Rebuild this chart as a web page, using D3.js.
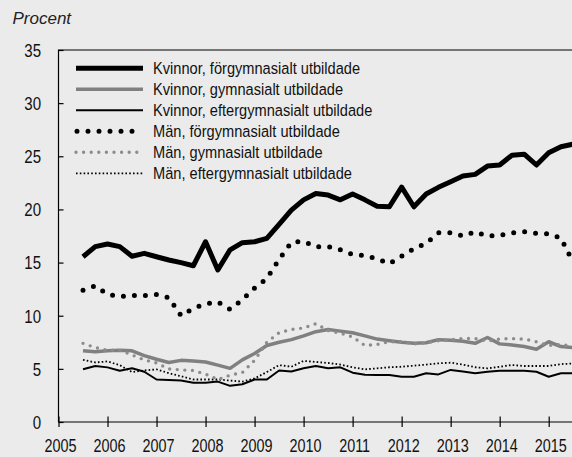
<!DOCTYPE html>
<html>
<head>
<meta charset="utf-8">
<script src="https://cdn.jsdelivr.net/npm/d3@7"></script>
<style>
  html, body { margin: 0; padding: 0; background: #ebebeb; overflow: hidden; }
  svg { display: block; }
  .tick text, .legend text { font-family: "Liberation Sans", Arial, sans-serif; fill: #111; }
</style>
</head>
<body>
<svg id="chart"></svg>
<script>
const width = 572, height = 457;

// quarterly observations, 2005 K3 .. 2015 K3
const quarters = d3.range(41).map(i => {
    const y = 2005 + Math.floor((i + 2) / 4), q = (i + 2) % 4 + 1;
    return y + "K" + q;
});

const kvinnorFor = [15.55, 16.5, 16.75, 16.5, 15.6, 15.87, 15.55, 15.24, 14.99, 14.7,
    16.96, 14.3, 16.2, 16.87, 16.96, 17.28, 18.6, 19.94, 20.9, 21.5,
    21.35, 20.9, 21.45, 20.9, 20.3, 20.25, 22.1, 20.25, 21.45, 22.08,
    22.6, 23.14, 23.3, 24.08, 24.18, 25.1, 25.2, 24.18, 25.33, 25.9, 26.15];
const kvinnorGym = [6.7, 6.6, 6.7, 6.75, 6.7, 6.25, 5.9, 5.6, 5.8, 5.75,
    5.65, 5.35, 5.05, 5.85, 6.45, 7.2, 7.5, 7.75, 8.1, 8.5,
    8.7, 8.55, 8.4, 8.1, 7.8, 7.65, 7.5, 7.4, 7.45, 7.75,
    7.7, 7.6, 7.4, 7.95, 7.35, 7.25, 7.1, 6.85, 7.55, 7.1, 7.0];
const kvinnorEft = [4.96, 5.27, 5.14, 4.83, 5.05, 4.73, 4.0, 3.95, 3.9, 3.7,
    3.7, 3.8, 3.4, 3.55, 4.0, 4.0, 4.85, 4.75, 5.05, 5.27,
    5.05, 5.14, 4.64, 4.45, 4.42, 4.42, 4.26, 4.26, 4.58, 4.48,
    4.9, 4.75, 4.58, 4.73, 4.83, 4.83, 4.83, 4.73, 4.26, 4.58, 4.58];
const manFor = [12.4, 12.8, 12.0, 11.8, 11.9, 11.9, 12.0, 11.7, 10.0, 10.7,
    11.1, 11.3, 10.6, 11.5, 12.6, 13.5, 15.3, 16.9, 17.0, 16.5,
    16.5, 16.2, 15.75, 15.65, 15.35, 14.9, 15.6, 16.3, 16.8, 17.8,
    17.8, 17.5, 17.9, 17.5, 17.55, 17.8, 17.9, 17.75, 17.7, 17.3, 15.0];
const manGym = [7.4, 7.0, 6.75, 6.75, 6.3, 5.85, 5.55, 5.0, 4.9, 4.85,
    4.5, 4.0, 4.4, 4.65, 5.8, 7.5, 8.4, 8.7, 8.85, 9.25,
    8.6, 8.35, 8.0, 7.2, 7.3, 7.55, 7.55, 7.35, 7.45, 7.65,
    7.75, 7.85, 7.85, 7.6, 7.8, 7.85, 7.8, 7.55, 7.2, 7.3, 7.1];
const manEft = [5.85, 5.6, 5.7, 5.35, 4.7, 4.85, 4.95, 4.6, 4.3, 4.0,
    4.0, 4.0, 3.9, 3.8, 4.1, 4.7, 5.35, 5.2, 5.75, 5.65,
    5.55, 5.4, 5.15, 4.95, 5.05, 5.15, 5.2, 5.3, 5.4, 5.52,
    5.58, 5.4, 5.15, 5.05, 5.2, 5.36, 5.27, 5.27, 5.27, 5.45, 5.5];

const seriesNames = [
    "Kvinnor, förgymnasialt utbildade",
    "Kvinnor, gymnasialt utbildade",
    "Kvinnor, eftergymnasialt utbildade",
    "Män, förgymnasialt utbildade",
    "Män, gymnasialt utbildade",
    "Män, eftergymnasialt utbildade"
];
const seriesValues = [kvinnorFor, kvinnorGym, kvinnorEft, manFor, manGym, manEft];
const xTicks = d3.range(2005, 2016);
const yTicks = [0, 5, 10, 15, 20, 25, 30, 35];

// line looks, same order as the series
const styles = [
    {color: "#000", width: 5, dash: null, cap: "butt"},
    {color: "#808080", width: 3.5, dash: null, cap: "butt"},
    {color: "#000", width: 2, dash: null, cap: "butt"},
    {color: "#000", width: 5, dash: "0 11", cap: "round"},
    {color: "#8c8c8c", width: 3.4, dash: "0 7.6", cap: "round"},
    {color: "#000", width: 1.8, dash: "1.6 2.2", cap: "butt"}
];

// the original type is a condensed face; squeeze Liberation Sans to match
const squeeze = 0.86, squeezeX = 0.8;

const margin = {top: 50, left: 58.5, bottom: 35};
const x = d3.scaleLinear().domain([2005, 2016]).range([margin.left, margin.left + 11 * 49.02]);
const y = d3.scaleLinear().domain([0, 35]).range([height - margin.bottom, margin.top]);

const qToYear = s => +s.slice(0, 4) + (+s.slice(5) - 1) / 4;

const svg = d3.select("#chart").attr("width", width).attr("height", height);

svg.append("text")
    .attr("x", 12.5).attr("y", 24)
    .attr("font-family", "Liberation Sans, Arial, sans-serif")
    .attr("font-style", "italic")
    .attr("font-size", 17)
    .attr("fill", "#222")
    .text("Procent");

// frame (top and left), plot runs off the right edge
svg.append("path")
    .attr("d", `M${x(2005)},${y(0)}V${y(35)}H${width + 20}`)
    .attr("fill", "none")
    .attr("stroke", "#000")
    .attr("stroke-width", 1.2);

// y axis, ticks point inward
const yAxis = svg.append("g")
    .attr("transform", `translate(${x(2005)},0)`)
    .call(d3.axisRight(y).tickValues(yTicks).tickSize(5).tickFormat(d3.format("d")));
yAxis.select(".domain").remove();
yAxis.selectAll(".tick line").attr("stroke", "#000").attr("stroke-width", 1.2);
yAxis.selectAll(".tick text")
    .attr("x", -17.5 / squeeze).attr("text-anchor", "end")
    .attr("dy", "0.36em")
    .attr("transform", `scale(${squeeze},1)`)
    .attr("font-size", 17.5);

// x axis, ticks cross the baseline
const xAxis = svg.append("g")
    .attr("transform", `translate(0,${y(0)})`)
    .call(d3.axisBottom(x).tickValues(xTicks).tickSize(5).tickFormat(d3.format("d")));
xAxis.select(".domain")
    .attr("d", `M${x(2005)},0H${width + 20}`)
    .attr("stroke", "#000").attr("stroke-width", 1.2);
xAxis.selectAll(".tick line").attr("y1", -5.5).attr("stroke", "#000").attr("stroke-width", 1.2);
xAxis.selectAll(".tick text")
    .attr("x", 1.5 / squeezeX)
    .attr("y", 30).attr("dy", 0)
    .attr("transform", `scale(${squeezeX},1)`)
    .attr("font-size", 18);

const line = d3.line()
    .x((d, i) => x(qToYear(quarters[i])))
    .y(d => y(d));

const drawOrder = [2, 5, 1, 4, 3, 0];
svg.append("g").attr("class", "lines")
    .selectAll("path")
    .data(drawOrder)
    .join("path")
    .attr("d", k => line(seriesValues[k]))
    .attr("fill", "none")
    .attr("stroke", k => styles[k].color)
    .attr("stroke-width", k => styles[k].width)
    .attr("stroke-dasharray", k => styles[k].dash)
    .attr("stroke-linecap", k => styles[k].cap)
    .attr("stroke-linejoin", "round");

// legend
const legend = svg.append("g")
    .attr("class", "legend")
    .selectAll("g")
    .data(seriesNames)
    .join("g")
    .attr("transform", (d, i) => `translate(0,${68.3 + i * 21})`);

legend.append("line")
    .attr("x1", (d, i) => i === 3 ? 77 : 76)
    .attr("x2", 143)
    .attr("stroke", (d, i) => styles[i].color)
    .attr("stroke-width", (d, i) => styles[i].width)
    .attr("stroke-dasharray", (d, i) => styles[i].dash)
    .attr("stroke-linecap", (d, i) => styles[i].cap);

legend.append("text")
    .attr("transform", `translate(153,0) scale(${squeeze},1)`)
    .attr("dy", "0.36em")
    .attr("font-size", 17)
    .text(d => d);
</script>
</body>
</html>
